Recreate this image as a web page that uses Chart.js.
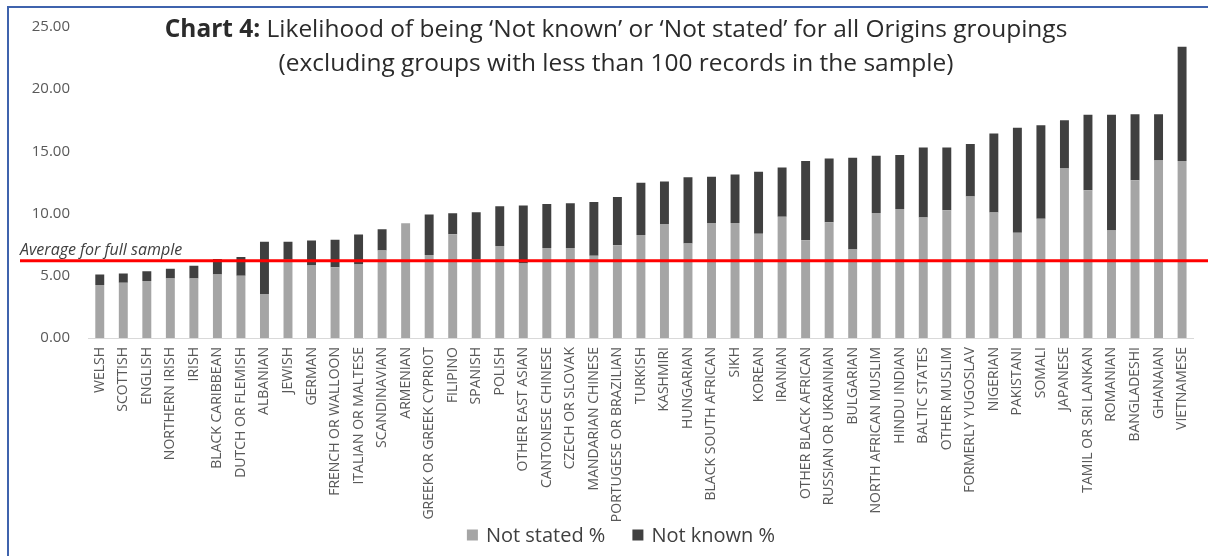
<!DOCTYPE html>
<html>
<head>
<meta charset="utf-8">
<script src="https://cdn.jsdelivr.net/npm/chart.js@4.4.1/dist/chart.umd.min.js"></script>
<style>
  html, body { margin: 0; padding: 0; background: #ffffff; }
  #wrap { position: relative; width: 1208px; height: 556px; overflow: hidden; }
  #frame { position: absolute; left: 7px; top: 6px; right: -4px; bottom: -4px;
           border-left: 2px solid #3f63ad; border-top: 2px solid #3f63ad; pointer-events: none; }
  canvas { position: absolute; left: 0; top: 0; }
</style>
</head>
<body>
<div id="wrap">
  <canvas id="chart" width="1208" height="556"></canvas>
  <div id="frame"></div>
</div>
<script>
// Origins groupings, ordered by overall rate
const categories = [
  'WELSH', 'SCOTTISH', 'ENGLISH', 'NORTHERN IRISH', 'IRISH', 'BLACK CARIBBEAN',
  'DUTCH OR FLEMISH', 'ALBANIAN', 'JEWISH', 'GERMAN', 'FRENCH OR WALLOON',
  'ITALIAN OR MALTESE', 'SCANDINAVIAN', 'ARMENIAN', 'GREEK OR GREEK CYPRIOT',
  'FILIPINO', 'SPANISH', 'POLISH', 'OTHER EAST ASIAN', 'CANTONESE CHINESE',
  'CZECH OR SLOVAK', 'MANDARIAN CHINESE', 'PORTUGESE OR BRAZILIAN', 'TURKISH',
  'KASHMIRI', 'HUNGARIAN', 'BLACK SOUTH AFRICAN', 'SIKH', 'KOREAN', 'IRANIAN',
  'OTHER BLACK AFRICAN', 'RUSSIAN OR UKRAINIAN', 'BULGARIAN', 'NORTH AFRICAN MUSLIM',
  'HINDU INDIAN', 'BALTIC STATES', 'OTHER MUSLIM', 'FORMERLY YUGOSLAV', 'NIGERIAN',
  'PAKISTANI', 'SOMALI', 'JAPANESE', 'TAMIL OR SRI LANKAN', 'ROMANIAN',
  'BANGLADESHI', 'GHANAIAN', 'VIETNAMESE'
];

// 'Not stated' share of records (%)
const notStated = [
  4.27, 4.45, 4.58, 4.79, 4.79, 5.10, 5.00, 3.54, 6.30, 5.83, 5.68, 5.91, 7.03,
  9.22, 6.67, 8.33, 6.35, 7.40, 5.99, 7.24, 7.24, 6.61, 7.45, 8.28, 9.17, 7.60,
  9.24, 9.24, 8.38, 9.74, 7.86, 9.30, 7.11, 10.05, 10.36, 9.69, 10.26, 11.38,
  10.08, 8.46, 9.58, 13.62, 11.88, 8.65, 12.68, 14.27, 14.22
];

// 'Not known' share of records (%)
const notKnown = [
  0.83, 0.73, 0.78, 0.78, 1.02, 1.25, 1.51, 4.19, 1.43, 2.01, 2.21, 2.40, 1.72,
  0.00, 3.25, 1.70, 3.75, 3.20, 4.66, 3.54, 3.59, 4.33, 3.88, 4.19, 3.41, 5.32,
  3.73, 3.91, 4.98, 3.96, 6.36, 5.13, 7.37, 4.61, 4.35, 5.62, 5.05, 4.22, 6.35,
  8.44, 7.53, 3.88, 6.06, 9.29, 5.31, 3.72, 9.19
];

// Combined rate across the full sample (%)
const sampleAverage = 6.2;

const yTicks = [0, 5, 10, 15, 20, 25];

const titleLines = [
  [['Chart 4:', 'bold'], [' Likelihood of being \u2018Not known\u2019 or \u2018Not stated\u2019 for all Origins groupings', 'normal']],
  [['(excluding groups with less than 100 records in the sample)', 'normal']]
];
const averageLabel = 'Average for full sample';

const FONT = '"Open Sans", sans-serif';

// Two-line heading with a bold lead-in
const headingPlugin = {
  id: 'heading',
  afterDraw(chart) {
    const ctx = chart.ctx;
    const centre = 616;
    const targetWidth = 903;
    const baselines = [37, 71];
    ctx.save();
    ctx.fillStyle = '#2b2b2b';
    ctx.textBaseline = 'alphabetic';
    const widthAt = (parts, size) => parts.reduce((w, [t, wt]) => {
      ctx.font = wt + ' ' + size + 'px ' + FONT;
      return w + ctx.measureText(t).width;
    }, 0);
    const size = 22 * targetWidth / widthAt(titleLines[0], 22);
    titleLines.forEach((parts, i) => {
      let x = centre - widthAt(parts, size) / 2;
      parts.forEach(([t, wt]) => {
        ctx.font = wt + ' ' + size + 'px ' + FONT;
        ctx.textAlign = 'left';
        ctx.fillText(t, x, baselines[i]);
        x += ctx.measureText(t).width;
      });
    });
    ctx.restore();
  }
};

// Red reference line for the sample-wide average
const averagePlugin = {
  id: 'averageLine',
  afterDatasetsDraw(chart) {
    const ctx = chart.ctx;
    const y = chart.scales.y.getPixelForValue(sampleAverage);
    ctx.save();
    ctx.strokeStyle = '#ff0000';
    ctx.lineWidth = 3;
    ctx.beginPath();
    ctx.moveTo(20, y);
    ctx.lineTo(chart.width, y);
    ctx.stroke();
    ctx.font = 'italic 16px ' + FONT;
    ctx.fillStyle = '#404040';
    ctx.textAlign = 'left';
    ctx.textBaseline = 'alphabetic';
    ctx.fillText(averageLabel, 20, y - 6);
    ctx.restore();
  }
};

// Series key along the bottom, built from the datasets
const keyPlugin = {
  id: 'seriesKey',
  afterDraw(chart) {
    const ctx = chart.ctx;
    const centreX = 621, centreY = 535;
    const box = 11, boxGap = 8, itemGap = 27;
    ctx.save();
    ctx.font = '20px ' + FONT;
    ctx.textBaseline = 'middle';
    ctx.textAlign = 'left';
    const items = chart.data.datasets.map(ds => ({
      text: ds.label, color: ds.backgroundColor, w: ctx.measureText(ds.label).width
    }));
    const total = items.reduce((s, it) => s + box + boxGap + it.w, 0) + itemGap * (items.length - 1);
    let x = centreX - total / 2;
    items.forEach(it => {
      ctx.fillStyle = it.color;
      ctx.fillRect(x, centreY - box / 2, box, box);
      x += box + boxGap;
      ctx.fillStyle = '#404040';
      ctx.fillText(it.text, x, centreY + 1);
      x += it.w + itemGap;
    });
    ctx.restore();
  }
};

new Chart(document.getElementById('chart'), {
  type: 'bar',
  data: {
    labels: categories,
    datasets: [
      { label: 'Not stated %', data: notStated, backgroundColor: '#a5a5a5',
        barPercentage: 0.38, categoryPercentage: 1.0 },
      { label: 'Not known %', data: notKnown, backgroundColor: '#404040',
        barPercentage: 0.38, categoryPercentage: 1.0 }
    ]
  },
  options: {
    responsive: false,
    animation: false,
    layout: { padding: { left: 0, right: 11, top: 18, bottom: 28 } },
    scales: {
      x: {
        stacked: true,
        grid: { display: false, drawTicks: false },
        border: { display: true, color: '#d9d9d9', width: 1 },
        ticks: {
          autoSkip: false, maxRotation: 90, minRotation: 90, padding: 9,
          color: '#595959', font: { family: FONT, size: 14 }
        },
        afterFit(scale) { scale.height = 190; }
      },
      y: {
        stacked: true,
        min: 0, max: 25,
        afterBuildTicks(scale) { scale.ticks = yTicks.map(v => ({ value: v })); },
        grid: { display: false, drawTicks: false },
        border: { display: false },
        ticks: {
          padding: 18, color: '#595959', font: { family: FONT, size: 15 },
          callback: v => Number(v).toFixed(2)
        },
        afterFit(scale) { scale.width = 88; }
      }
    },
    plugins: {
      legend: { display: false },
      tooltip: { enabled: false }
    }
  },
  plugins: [averagePlugin, headingPlugin, keyPlugin]
});
</script>
</body>
</html>
